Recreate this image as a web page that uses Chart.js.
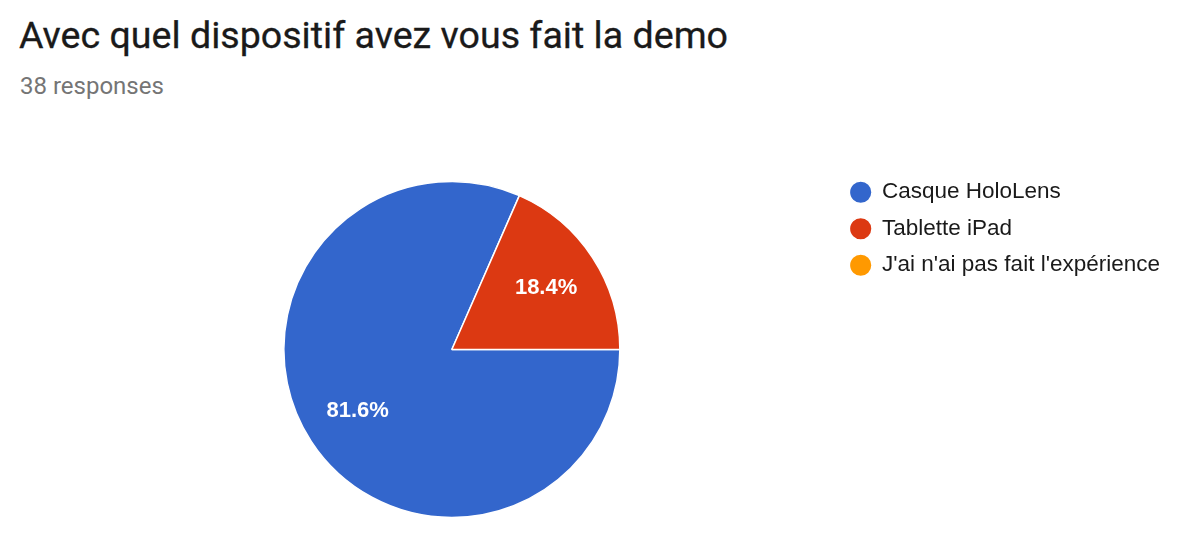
<!DOCTYPE html>
<html>
<head>
<meta charset="utf-8">
<script src="https://cdn.jsdelivr.net/npm/chart.js@4/dist/chart.umd.min.js"></script>
<style>
	body { margin: 0; background: #fff; }
	#wrap { position: relative; width: 1200px; height: 548px; }
	#title { position: absolute; left: 19px; top: 13px; margin: 0; font: 400 37.6px Roboto, sans-serif; line-height: 1.2; color: #1a1a1a; white-space: nowrap; -webkit-text-stroke: 0.3px #1a1a1a; }
	#sub { position: absolute; left: 20px; top: 72px; margin: 0; font: 400 24px Roboto, sans-serif; line-height: 1.2; color: #757575; }
	#chart { position: absolute; left: 0; top: 0; }
</style>
</head>
<body>
<div id="wrap">
	<h1 id="title">Avec quel dispositif avez vous fait la demo</h1>
	<p id="sub">38 responses</p>
	<canvas id="chart" width="1200" height="548"></canvas>
</div>
<script>
var labels = ["Casque HoloLens", "Tablette iPad", "J'ai n'ai pas fait l'expérience"];
var counts = [31, 7, 0];
var sliceColors = ["#3366CC", "#DC3912", "#FF9900"];

var total = counts.reduce(function(a, b){ return a + b; }, 0);

// percent text inside the slices, like the forms summary
var pctLabels = {
	id: "pctLabels",
	afterDatasetsDraw: function(chart){
		var ctx = chart.ctx;
		var meta = chart.getDatasetMeta(0);
		ctx.save();
		ctx.fillStyle = "#fff";
		ctx.font = "bold 22px 'Liberation Sans', Arial, sans-serif";
		ctx.textAlign = "center";
		ctx.textBaseline = "middle";
		meta.data.forEach(function(arc, i){
			if(!counts[i]) return;
			var mid = (arc.startAngle + arc.endAngle) / 2;
			var r = arc.outerRadius * 0.67;
			var txt = (counts[i] / total * 100).toFixed(1) + "%";
			ctx.fillText(txt, arc.x + Math.cos(mid) * r, arc.y + Math.sin(mid) * r);
		});
		ctx.restore();
	}
};

new Chart("chart", {
	type: "pie",
	data: {
		labels: labels,
		datasets: [{
			data: counts,
			backgroundColor: sliceColors,
			borderColor: "#fff",
			borderWidth: 1.5,
			radius: 168
		}]
	},
	options: {
		responsive: false,
		animation: false,
		rotation: 90,
		layout: { padding: { left: 67, right: 30, top: 167, bottom: 16 } },
		plugins: {
			tooltip: { enabled: false },
			legend: {
				position: "right",
				align: "start",
				labels: {
					usePointStyle: true,
					pointStyle: "circle",
					boxWidth: 20,
					boxHeight: 16,
					padding: 14,
					color: "#1a1a1a",
					font: { family: "'Liberation Sans', Arial, sans-serif", size: 22.5 }
				}
			}
		}
	},
	plugins: [pctLabels]
});
</script>
</body>
</html>
